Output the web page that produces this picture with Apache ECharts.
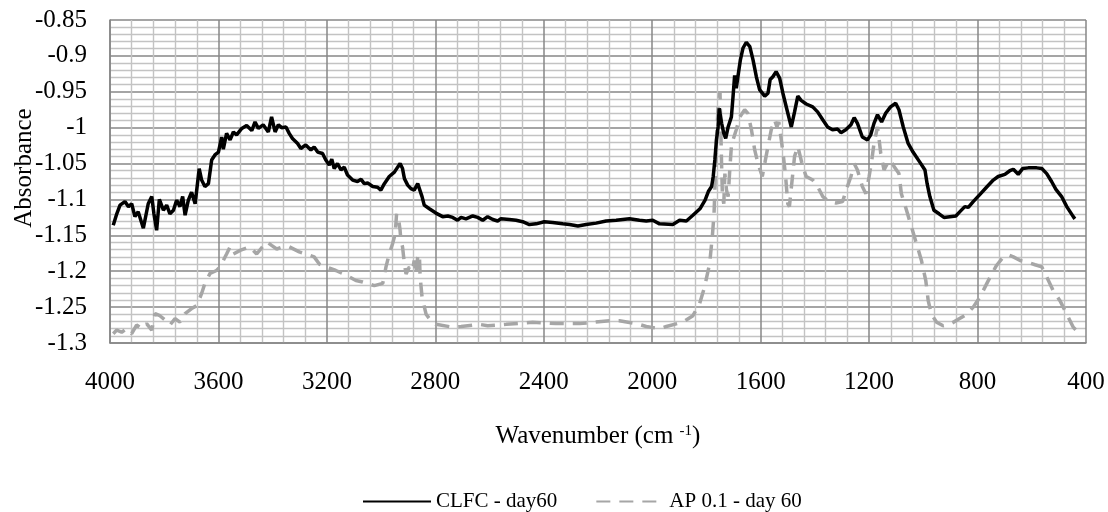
<!DOCTYPE html>
<html>
<head>
<meta charset="utf-8">
<script src="https://cdn.jsdelivr.net/npm/echarts@6/dist/echarts.min.js"></script>
<style>
html,body{margin:0;padding:0;background:#fff;}
#chart{width:1108px;height:512px;}
</style>
</head>
<body>
<div id="chart"></div>
<script>
// CLFC - day60 (black solid)
const clfcWavenumber = [3988,3975,3963,3945,3932,3920,3908,3896,3877,3859,3846,3838,3828,3818,3803,3791,3779,3766,3754,3742,3732,3723,3711,3699,3686,3671,3662,3650,3637,3625,3613,3600,3588,3582,3570,3557,3545,3533,3514,3496,3477,3465,3453,3435,3416,3404,3391,3379,3367,3351,3339,3327,3308,3296,3278,3259,3247,3234,3216,3204,3191,3182,3173,3161,3148,3136,3124,3105,3087,3074,3062,3050,3031,3013,3001,2988,2970,2951,2939,2930,2921,2914,2902,2890,2878,2865,2859,2849,2841,2822,2798,2773,2754,2736,2718,2705,2687,2662,2644,2625,2607,2588,2570,2558,2527,2502,2478,2453,2428,2398,2367,2330,2305,2274,2244,2207,2170,2133,2084,2047,2022,1998,1973,1924,1899,1874,1850,1824,1805,1793,1781,1775,1769,1763,1757,1753,1744,1736,1729,1720,1708,1702,1696,1690,1684,1675,1665,1653,1640,1628,1616,1604,1585,1573,1565,1555,1543,1530,1518,1503,1487,1475,1463,1451,1432,1408,1390,1371,1353,1335,1316,1304,1286,1267,1255,1243,1225,1206,1194,1182,1169,1154,1139,1121,1102,1090,1074,1056,1038,1013,994,986,976,961,942,924,902,880,865,847,834,816,791,767,742,724,699,681,668,650,634,613,582,563,545,527,511,490,471,447,441];
const clfcAbsorbance = [-1.136,-1.120,-1.108,-1.103,-1.110,-1.106,-1.124,-1.117,-1.140,-1.106,-1.096,-1.120,-1.143,-1.100,-1.115,-1.108,-1.120,-1.115,-1.101,-1.110,-1.096,-1.122,-1.101,-1.090,-1.106,-1.057,-1.073,-1.082,-1.078,-1.045,-1.038,-1.034,-1.013,-1.030,-1.008,-1.017,-1.006,-1.010,-1.001,-0.997,-1.004,-0.992,-1.001,-0.996,-1.006,-0.985,-1.006,-0.996,-1.000,-0.999,-1.008,-1.015,-1.022,-1.029,-1.024,-1.031,-1.027,-1.034,-1.036,-1.045,-1.052,-1.044,-1.057,-1.050,-1.059,-1.055,-1.066,-1.073,-1.075,-1.072,-1.078,-1.077,-1.082,-1.083,-1.087,-1.078,-1.068,-1.062,-1.055,-1.050,-1.057,-1.071,-1.080,-1.085,-1.087,-1.078,-1.077,-1.096,-1.108,-1.113,-1.119,-1.124,-1.123,-1.125,-1.129,-1.125,-1.127,-1.123,-1.125,-1.129,-1.124,-1.128,-1.130,-1.127,-1.128,-1.129,-1.131,-1.135,-1.134,-1.131,-1.132,-1.134,-1.135,-1.137,-1.135,-1.133,-1.130,-1.129,-1.127,-1.129,-1.130,-1.129,-1.134,-1.135,-1.129,-1.130,-1.122,-1.113,-1.101,-1.089,-1.082,-1.068,-1.045,-1.017,-0.999,-0.973,-0.994,-1.008,-1.015,-0.999,-0.985,-0.957,-0.927,-0.945,-0.929,-0.906,-0.889,-0.881,-0.887,-0.906,-0.929,-0.947,-0.956,-0.952,-0.933,-0.929,-0.922,-0.931,-0.952,-0.975,-0.999,-0.978,-0.956,-0.962,-0.967,-0.971,-0.978,-0.989,-0.999,-1.003,-1.002,-1.007,-1.003,-0.996,-0.986,-0.994,-1.013,-1.017,-1.010,-0.994,-0.982,-0.992,-0.980,-0.971,-0.966,-0.975,-0.999,-1.022,-1.034,-1.048,-1.059,-1.078,-1.096,-1.115,-1.120,-1.125,-1.124,-1.123,-1.117,-1.110,-1.111,-1.103,-1.093,-1.083,-1.073,-1.068,-1.065,-1.060,-1.058,-1.065,-1.057,-1.056,-1.056,-1.057,-1.064,-1.075,-1.086,-1.096,-1.110,-1.124,-1.127];

// AP 0.1 - day 60 (grey dashed)
const apWavenumber = [3988,3975,3957,3938,3920,3902,3883,3865,3846,3834,3816,3797,3779,3760,3742,3723,3699,3680,3662,3650,3631,3607,3594,3570,3557,3545,3520,3484,3459,3422,3404,3385,3361,3339,3302,3247,3228,3204,3167,3136,3093,3068,3025,2994,2982,2970,2958,2948,2943,2935,2930,2927,2921,2914,2908,2896,2884,2878,2872,2865,2859,2856,2849,2834,2816,2798,2736,2705,2638,2607,2539,2441,2355,2268,2157,2121,2059,2022,1973,1948,1887,1850,1825,1807,1788,1778,1772,1769,1763,1757,1750,1747,1744,1741,1736,1732,1726,1720,1714,1708,1702,1690,1677,1659,1647,1634,1622,1610,1594,1585,1573,1561,1549,1540,1533,1524,1516,1508,1500,1494,1484,1475,1463,1454,1445,1432,1408,1390,1371,1347,1322,1298,1280,1267,1255,1243,1225,1212,1200,1190,1182,1169,1163,1157,1145,1133,1121,1108,1090,1081,1062,1044,1025,1007,991,982,970,951,927,902,871,840,816,791,767,748,730,705,687,668,643,619,588,563,545,521,496,471,447,434];
const apAbsorbance = [-1.287,-1.282,-1.285,-1.280,-1.287,-1.275,-1.280,-1.273,-1.282,-1.259,-1.262,-1.268,-1.275,-1.266,-1.271,-1.259,-1.252,-1.248,-1.231,-1.217,-1.203,-1.199,-1.194,-1.176,-1.166,-1.176,-1.171,-1.166,-1.176,-1.159,-1.164,-1.169,-1.166,-1.166,-1.173,-1.180,-1.190,-1.194,-1.199,-1.204,-1.213,-1.215,-1.220,-1.217,-1.194,-1.176,-1.162,-1.148,-1.120,-1.129,-1.143,-1.157,-1.166,-1.190,-1.204,-1.194,-1.199,-1.185,-1.204,-1.180,-1.176,-1.208,-1.236,-1.260,-1.269,-1.274,-1.278,-1.277,-1.274,-1.276,-1.274,-1.271,-1.273,-1.273,-1.269,-1.269,-1.273,-1.277,-1.280,-1.277,-1.271,-1.262,-1.245,-1.222,-1.189,-1.150,-1.120,-1.087,-1.017,-0.971,-0.950,-1.003,-1.054,-1.096,-1.106,-1.064,-1.087,-1.096,-1.059,-1.026,-1.017,-1.003,-0.985,-0.975,-0.980,-1.003,-1.031,-1.050,-1.068,-1.050,-1.026,-1.003,-0.989,-0.999,-0.992,-1.017,-1.040,-1.068,-1.106,-1.110,-1.073,-1.040,-1.026,-1.040,-1.054,-1.068,-1.073,-1.082,-1.096,-1.103,-1.105,-1.103,-1.082,-1.068,-1.050,-1.059,-1.082,-1.092,-1.068,-1.045,-1.022,-0.999,-1.017,-1.036,-1.059,-1.050,-1.045,-1.054,-1.064,-1.092,-1.115,-1.138,-1.162,-1.185,-1.213,-1.241,-1.260,-1.271,-1.276,-1.274,-1.267,-1.260,-1.250,-1.236,-1.218,-1.204,-1.192,-1.180,-1.177,-1.180,-1.185,-1.187,-1.191,-1.194,-1.208,-1.227,-1.241,-1.260,-1.278,-1.283];

const seriesNames = ['CLFC - day60', 'AP 0.1 - day 60'];

function pairs(xs, ys) { return xs.map((x, i) => [x, ys[i]]); }

const FONT = 'Liberation Serif';
const chart = echarts.init(document.getElementById('chart'), null, {renderer: 'canvas'});
chart.setOption({
  animation: false,
  backgroundColor: '#ffffff',
  grid: {left: 110, right: 22, top: 20, bottom: 169, containLabel: false},
  xAxis: {
    type: 'value', inverse: true, min: 400, max: 4000, interval: 400,
    name: 'Wavenumber (cm {sup|-1})', nameLocation: 'middle', nameGap: 81,
    nameTextStyle: {fontFamily: FONT, fontSize: 25, color: '#000',
      rich: {sup: {fontFamily: FONT, fontSize: 15, color: '#000', verticalAlign: 'top', padding: [0,0,8,0]}}},
    axisLine: {show: true, lineStyle: {color: '#868686', width: 1.5}},
    axisTick: {show: false},
    axisLabel: {fontFamily: FONT, fontSize: 25, color: '#000', margin: 27, formatter: v => String(v)},
    splitLine: {show: true, lineStyle: {color: '#878787', width: 1.5}},
    minorTick: {show: false, splitNumber: 5},
    minorSplitLine: {show: true, lineStyle: {color: '#c3c3c3', width: 1.4}}
  },
  yAxis: {
    type: 'value', min: -1.3, max: -0.85, interval: 0.05,
    axisLine: {show: true, lineStyle: {color: '#868686', width: 1.5}},
    axisTick: {show: false},
    axisLabel: {fontFamily: FONT, fontSize: 25, color: '#000', margin: 23},
    splitLine: {show: true, lineStyle: {color: '#878787', width: 1.5}},
    minorTick: {show: false, splitNumber: 5},
    minorSplitLine: {show: true, lineStyle: {color: '#c3c3c3', width: 1.4}}
  },
  graphic: [{
    type: 'text', x: 24, y: 168, rotation: Math.PI / 2,
    style: {text: 'Absorbance', fontFamily: FONT, fontSize: 25, fill: '#000', align: 'center', verticalAlign: 'middle'}
  }],
  legend: {
    left: 357, top: 486, itemWidth: 68, itemHeight: 20, itemGap: 38,
    itemStyle: {opacity: 0},
    textStyle: {fontFamily: FONT, fontSize: 21, color: '#000'},
    data: seriesNames
  },
  series: [
    {name: seriesNames[0], type: 'line', data: pairs(clfcWavenumber, clfcAbsorbance),
     symbol: 'none', showSymbol: false, smooth: false, z: 3,
     lineStyle: {color: '#000000', width: 3.5}, itemStyle: {color: '#000000'}},
    {name: seriesNames[1], type: 'line', data: pairs(apWavenumber, apAbsorbance),
     symbol: 'none', showSymbol: false, smooth: false, z: 2,
     lineStyle: {color: '#a6a6a6', width: 3.5, type: [14, 9]}, itemStyle: {color: '#a6a6a6'}}
  ]
});
</script>
</body>
</html>
